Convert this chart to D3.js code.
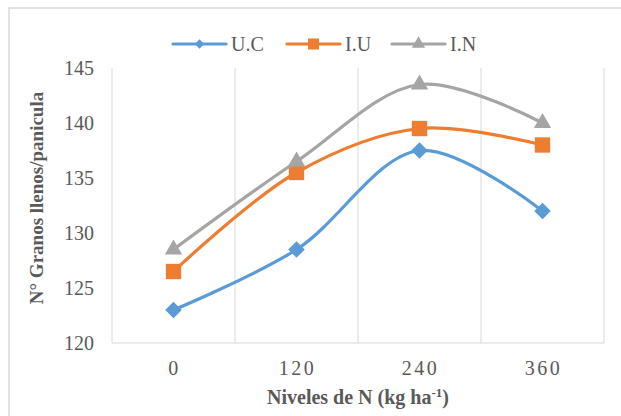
<!DOCTYPE html>
<html><head><meta charset="utf-8">
<script src="https://cdn.jsdelivr.net/npm/d3@7/dist/d3.min.js"></script>
<style>
html,body{margin:0;padding:0;background:#fff;}
svg text{font-family:"Liberation Serif","Times New Roman",serif;}
</style></head>
<body><svg id="c" width="621" height="416"></svg>
<script>
const categories = ["0","120","240","360"];
const seriesNames = ["U.C","I.U","I.N"];
const ucValues = [123, 128.5, 137.5, 132];
const iuValues = [126.5, 135.5, 139.5, 138];
const inValues = [128.5, 136.5, 143.5, 140];
const yTicks = [120,125,130,135,140,145];
const colors = ["#5B9BD5","#ED7D31","#A5A5A5"];
const symbols = [d3.symbolDiamond2, d3.symbolSquare2, d3.symbolTriangle2];
const symbolSizes = [175, 300, 215];
const legendSymbolSizes = [55, 155, 125];

const svg = d3.select("#c");
// outer frame
svg.append("rect").attr("x",9).attr("y",8).attr("width",640).attr("height",430)
  .attr("fill","none").attr("stroke","#D9D9D9").attr("stroke-width",1.5);

const L=112,R=604,T=68,B=343;
const x = d3.scaleBand().domain(categories).range([L,R]).padding(0);
const y = d3.scaleLinear().domain([120,145]).range([B,T]);

// vertical gridlines at category boundaries
const bounds = categories.map(c=>x(c)).concat([R]);
svg.append("g").selectAll("line").data(bounds).join("line")
  .attr("x1",d=>d).attr("x2",d=>d).attr("y1",T).attr("y2",B)
  .attr("stroke","#D9D9D9").attr("stroke-width",1);
// bottom axis line
svg.append("line").attr("x1",L).attr("x2",R).attr("y1",B).attr("y2",B)
  .attr("stroke","#D9D9D9").attr("stroke-width",1);

// y tick labels
svg.append("g").selectAll("text").data(yTicks).join("text")
  .attr("x",94).attr("y",d=>y(d)).attr("dy","0.35em").attr("text-anchor","end")
  .attr("fill","#595959").style("font-size","20px").text(d=>d);
// x tick labels
svg.append("g").selectAll("text").data(categories).join("text")
  .attr("x",d=>x(d)+x.bandwidth()/2+1).attr("y",375).attr("text-anchor","middle")
  .attr("fill","#595959").style("font-size","20px").style("letter-spacing","2.5px").text(d=>d);

// axis titles
const xt = svg.append("text").attr("x",358).attr("y",404).attr("text-anchor","middle")
  .attr("fill","#595959").style("font-size","20px").style("font-weight","bold");
xt.append("tspan").text("Niveles de N (kg ha");
xt.append("tspan").attr("dy",-7).style("font-size","13px").text("-1");
xt.append("tspan").attr("dy",7).text(")");
svg.append("text").attr("transform","translate(43,198) rotate(-90)").attr("text-anchor","middle")
  .attr("fill","#595959").style("font-size","19px").style("font-weight","bold")
  .text("N° Granos llenos/panicula");

const allSeries = [ucValues, iuValues, inValues];
const line = d3.line().x((d,i)=>x(categories[i])+x.bandwidth()/2).y(d=>y(d))
  .curve(d3.curveCatmullRom.alpha(0.5));

allSeries.forEach((vals,si)=>{
  const g = svg.append("g");
  g.append("path").attr("d",line(vals)).attr("fill","none")
    .attr("stroke",colors[si]).attr("stroke-width",3.2).attr("stroke-linecap","round");
  g.selectAll("path.m").data(vals).join("path").attr("class","m")
    .attr("transform",(d,i)=>`translate(${x(categories[i])+x.bandwidth()/2},${y(d)})`)
    .attr("d",d3.symbol().type(symbols[si]).size(symbolSizes[si])())
    .attr("fill",colors[si]);
});

// legend
const legX = [173, 287, 392];
seriesNames.forEach((n,i)=>{
  const g = svg.append("g").attr("transform",`translate(${legX[i]},44)`);
  g.append("line").attr("x1",0).attr("x2",53).attr("stroke",colors[i]).attr("stroke-width",3.2).attr("stroke-linecap","round");
  g.append("path").attr("transform","translate(26.5,0)")
    .attr("d",d3.symbol().type(symbols[i]).size(legendSymbolSizes[i])()).attr("fill",colors[i]);
  g.append("text").attr("x",58).attr("dy","0.35em").attr("fill","#595959")
    .style("font-size","20px").text(n);
});
</script></body></html>
